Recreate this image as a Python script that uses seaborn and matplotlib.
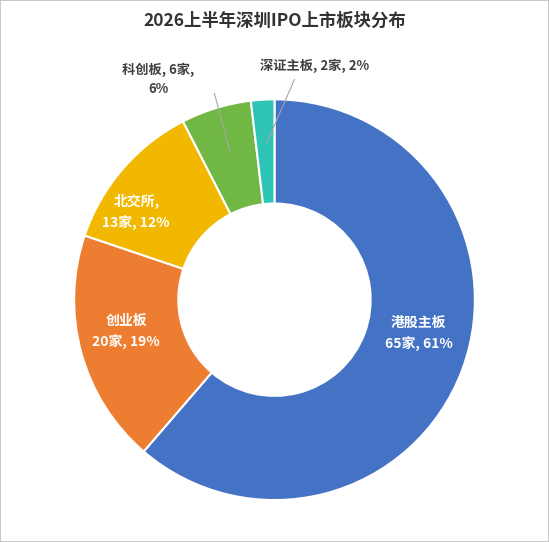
import matplotlib
matplotlib.use("Agg")
import matplotlib.pyplot as plt
import seaborn as sns
import numpy as np

sns.set_theme(style="white")
plt.rcParams['font.family'] = ['Noto Sans CJK SC', 'DejaVu Sans']

categories = ["港股主板", "创业板", "北交所", "科创板", "深证主板"]
counts = [65, 20, 13, 6, 2]
pcts = [61, 19, 12, 6, 2]
colors = ["#4472C4", "#ED7D31", "#F2B800", "#70B843", "#2EC4B6"]

fig = plt.figure(figsize=(5.49, 5.42), dpi=100)
ax = fig.add_axes([0.0, 0.0, 1.0, 0.92])
fig.patches.append(plt.Rectangle((0, 0), 1, 1, transform=fig.transFigure,
                                 fill=False, edgecolor="#BFBFBF", lw=1.2))
wedges, _ = ax.pie(counts, colors=colors, startangle=90, counterclock=False,
                   radius=1.0, wedgeprops=dict(width=0.52, edgecolor="white", linewidth=1.5))
ax.set_aspect("equal")
ax.set_xlim(-1.37, 1.37)
ax.set_ylim(-1.18, 1.25)

fig.text(0.5, 0.962, "2026上半年深圳IPO上市板块分布", ha="center", va="center",
         fontsize=12.5, fontweight="bold", color="#333333")

inside = {0: (0.72, -0.17, "{}\n{}家, {}%"), 1: (-0.74, -0.16, "{}\n{}家, {}%"),
          2: (-0.69, 0.44, "{},\n{}家, {}%")}
for i, (x, y, fmt) in inside.items():
    ax.text(x, y, fmt.format(categories[i], counts[i], pcts[i]), ha="center", va="center",
            color="white", fontsize=10, fontweight="bold", linespacing=1.5)

ax.text(-0.58, 1.1, f"{categories[3]}, {counts[3]}家,\n{pcts[3]}%", ha="center", va="center",
        fontsize=9.5, fontweight="bold", color="#404040", linespacing=1.4)
ax.plot([-0.3, -0.22], [1.03, 0.73], color="#A6A6A6", lw=0.8)
ax.text(0.2, 1.17, f"{categories[4]}, {counts[4]}家, {pcts[4]}%", ha="center", va="center",
        fontsize=9.5, fontweight="bold", color="#404040")
ax.plot([0.1, -0.04], [1.1, 0.78], color="#A6A6A6", lw=0.8)

fig.savefig("out.png", dpi=100, facecolor="white")
